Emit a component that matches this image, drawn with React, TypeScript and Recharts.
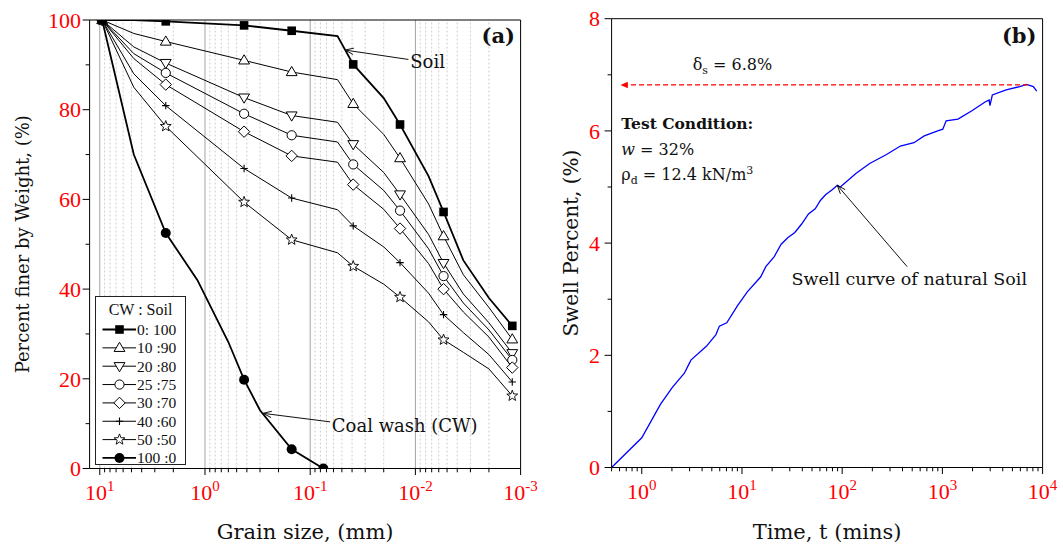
import React from 'react';
import { LineChart, Line, XAxis, YAxis, ReferenceLine, ReferenceDot, Legend } from 'recharts';

const SERIF = '"DejaVu Serif", serif';
const TIMES = '"Liberation Serif", "Times New Roman", serif';
const RED = '#ff0000';

// ---------------- Panel (a): grain size distribution ----------------
const grainSizes = [9.5, 4.75, 2.36, 0.425, 0.15, 0.055, 0.039, 0.02, 0.014, 0.0075, 0.0054, 0.0035, 0.002, 0.0012];
const markerIndexes = [0, 2, 3, 4, 6, 8, 10, 13];
const soil0_100 = [100, 100, 99.7, 98.8, 97.6, 96.4, 90.1, 82.6, 76.7, 65.2, 57.2, 46.4, 38.0, 31.8];
const mix10_90 = [100, 97.0, 95.2, 91.0, 88.4, 86.7, 81.3, 74.5, 69.2, 59.0, 51.8, 43.2, 35.9, 28.8];
const mix20_80 = [100, 94.0, 90.4, 82.7, 78.7, 77.2, 72.3, 66.0, 61.1, 52.2, 45.8, 38.9, 32.5, 25.7];
const mix25_75 = [100, 92.5, 88.2, 79.1, 74.3, 72.8, 67.8, 62.0, 57.5, 49.0, 42.9, 36.9, 30.9, 24.2];
const mix30_70 = [100, 91.4, 85.6, 75.1, 69.7, 68.3, 63.3, 57.8, 53.5, 45.7, 40.0, 34.9, 29.3, 22.5];
const mix40_60 = [100, 88.0, 80.9, 66.9, 60.3, 57.7, 54.1, 49.4, 45.9, 39.1, 34.3, 30.3, 25.4, 19.3];
const mix50_50 = [100, 85.0, 76.3, 59.4, 51.0, 48.1, 45.1, 41.1, 38.2, 32.7, 28.7, 25.9, 22.2, 16.2];

const cwSizes = [9.5, 4.75, 2.36, 1.18, 0.6, 0.425, 0.3, 0.15, 0.075];
const cwMarkerIndexes = [0, 2, 5, 7, 8];
const coalWash100_0 = [100, 70.0, 52.5, 42.0, 28.2, 19.8, 13.0, 4.3, 0];

const legendTitle = 'CW : Soil';
const legendLabels = ['0: 100', '10 :90', '20 :80', '25 :75', '30 :70', '40 :60', '50 :50', '100 :0'];
const legendShapes = ['square', 'triUp', 'triDown', 'circle', 'diamond', 'plus', 'star', 'dot'];

const grainMajorTicks = [10, 1, 0.1, 0.01, 0.001];
const grainMinorTicks = [
  9, 8, 7, 6, 5, 4, 3, 2,
  0.9, 0.8, 0.7, 0.6, 0.5, 0.4, 0.3, 0.2,
  0.09, 0.08, 0.07, 0.06, 0.05, 0.04, 0.03, 0.02,
  0.009, 0.008, 0.007, 0.006, 0.005, 0.004, 0.003, 0.002,
];
const percentTicks = [0, 10, 20, 30, 40, 50, 60, 70, 80, 90, 100];

// ---------------- Panel (b): swell curve ----------------
const swellTime = [
  0.5, 1.0, 1.54, 2.02, 2.66, 2.99, 3.11, 4.41, 5.5, 5.95, 7.05, 9.07, 11.3, 15.4, 17.3, 21.0, 24.6, 28.8,
  33.7, 39.4, 46.1, 53.8, 60.6, 68.2, 79.5, 89.4, 95.8, 137, 188, 277, 381, 520, 660, 898, 1010, 1090,
  1430, 1970, 2690, 2930, 2980, 3150, 4330, 5920, 6910, 8080, 8740,
];
const swellPercent = [
  0, 0.53, 1.13, 1.43, 1.68, 1.86, 1.92, 2.16, 2.37, 2.52, 2.58, 2.89, 3.13, 3.4, 3.58, 3.76, 3.98, 4.1,
  4.19, 4.34, 4.52, 4.61, 4.76, 4.86, 4.95, 5.03, 5.0, 5.24, 5.42, 5.58, 5.73, 5.79, 5.91, 6.0, 6.03, 6.18,
  6.21, 6.36, 6.52, 6.55, 6.45, 6.64, 6.73, 6.79, 6.83, 6.79, 6.71,
];
const peakSwell = 6.82;
const timeMajorTicks = [1, 10, 100, 1000, 10000];
const timeMinorTicks = [
  0.5, 0.6, 0.7, 0.8, 0.9,
  2, 3, 4, 5, 6, 7, 8, 9,
  20, 30, 40, 50, 60, 70, 80, 90,
  200, 300, 400, 500, 600, 700, 800, 900,
  2000, 3000, 4000, 5000, 6000, 7000, 8000, 9000,
];
const swellTicks = [0, 1, 2, 3, 4, 5, 6, 7, 8];

// ---------------- derived tables ----------------
const mixRows = grainSizes.map((d, i) => ({
  d,
  s0: soil0_100[i],
  s10: mix10_90[i],
  s20: mix20_80[i],
  s25: mix25_75[i],
  s30: mix30_70[i],
  s40: mix40_60[i],
  s50: mix50_50[i],
}));
const cwRows = cwSizes.map((d, i) => ({ d, cw: coalWash100_0[i] }));
const swellRows = swellTime.map((t, i) => ({ t, s: swellPercent[i] }));

const mixSeries = [
  { key: 's10', shape: 'triUp', w: 1 },
  { key: 's20', shape: 'triDown', w: 1 },
  { key: 's25', shape: 'circle', w: 1 },
  { key: 's30', shape: 'diamond', w: 1 },
  { key: 's40', shape: 'plus', w: 1 },
  { key: 's50', shape: 'star', w: 1 },
];

// ---------------- drawing helpers ----------------
function Marker({ shape, cx, cy }: { shape: string; cx: number; cy: number }) {
  switch (shape) {
    case 'square':
      return <rect x={cx - 4.3} y={cy - 4.3} width={8.6} height={8.6} fill="#000" />;
    case 'triUp':
      return <polygon points={`${cx},${cy - 5.6} ${cx + 5.4},${cy + 3.6} ${cx - 5.4},${cy + 3.6}`} fill="#fff" stroke="#000" strokeWidth={1} />;
    case 'triDown':
      return <polygon points={`${cx},${cy + 5.6} ${cx + 5.4},${cy - 3.6} ${cx - 5.4},${cy - 3.6}`} fill="#fff" stroke="#000" strokeWidth={1} />;
    case 'circle':
      return <circle cx={cx} cy={cy} r={4.6} fill="#fff" stroke="#000" strokeWidth={1} />;
    case 'diamond':
      return <polygon points={`${cx},${cy - 5.7} ${cx + 5.7},${cy} ${cx},${cy + 5.7} ${cx - 5.7},${cy}`} fill="#fff" stroke="#000" strokeWidth={1} />;
    case 'plus':
      return <path d={`M${cx - 3.7},${cy}H${cx + 3.7}M${cx},${cy - 3.7}V${cy + 3.7}`} stroke="#000" strokeWidth={1.1} fill="none" />;
    case 'star': {
      const pts: string[] = [];
      for (let i = 0; i < 10; i++) {
        const r = i % 2 === 0 ? 5.7 : 2.4;
        const a = -Math.PI / 2 + (i * Math.PI) / 5;
        pts.push(`${cx + r * Math.cos(a)},${cy + r * Math.sin(a)}`);
      }
      return <polygon points={pts.join(' ')} fill="#fff" stroke="#000" strokeWidth={0.9} />;
    }
    case 'dot':
      return <circle cx={cx} cy={cy} r={5} fill="#000" />;
    default:
      return null;
  }
}

const makeDot = (shape: string, idx: number[]) => (p: any) => {
  const k = `dot-${shape}-${p.index}`;
  if (!idx.includes(p.index) || p.cx == null || p.cy == null) return <g key={k} />;
  return (
    <g key={k}>
      <Marker shape={shape} cx={p.cx} cy={p.cy} />
    </g>
  );
};

const isPow10 = (v: number) => Math.abs(Math.log10(v) - Math.round(Math.log10(v))) < 1e-9;

const PowTick = (p: any) => {
  const { x, y, payload } = p;
  const v = payload.value;
  const major = isPow10(v);
  const e = Math.round(Math.log10(v));
  return (
    <g>
      <line x1={x} y1={y} x2={x} y2={y + (major ? 6.5 : 3.8)} stroke="#000" strokeWidth={1} />
      {major && (
        <text x={x} y={y + 31.5} textAnchor="middle" fill={RED} fontFamily={TIMES} fontSize={22}>
          10
          <tspan dy={-9} fontSize={15}>
            {String(e)}
          </tspan>
        </text>
      )}
    </g>
  );
};

const makeLinTick = (every: number, gap: number, fontSize: number) => (p: any) => {
  const { x, y, payload } = p;
  const v = payload.value;
  const major = v % every === 0;
  return (
    <g>
      <line x1={x} y1={y} x2={x - (major ? 7 : 4)} y2={y} stroke="#000" strokeWidth={1} />
      {major && (
        <text x={x - gap} y={y} dy="0.35em" textAnchor="end" fill={RED} fontFamily={TIMES} fontSize={fontSize}>
          {v}
        </text>
      )}
    </g>
  );
};

const arrowShape = (color: string, head: 'open' | 'filled', dash?: string, width = 1, L = 9, spread = 0.36) => (p: any) => {
  const { x1, y1, x2, y2 } = p;
  const ang = Math.atan2(y1 - y2, x1 - x2);
  const a = `${x2 + L * Math.cos(ang + spread)},${y2 + L * Math.sin(ang + spread)}`;
  const b = `${x2 + L * Math.cos(ang - spread)},${y2 + L * Math.sin(ang - spread)}`;
  return (
    <g>
      <line x1={x1} y1={y1} x2={x2} y2={y2} stroke={color} strokeWidth={width} strokeDasharray={dash} />
      {head === 'open' ? (
        <polyline points={`${a} ${x2},${y2} ${b}`} fill="none" stroke={color} strokeWidth={width} />
      ) : (
        <polygon points={`${a} ${x2},${y2} ${b}`} fill={color} />
      )}
    </g>
  );
};

const textShape = (content: React.ReactNode, opts: { anchor?: string; size?: number; bold?: boolean; family?: string } = {}) => (p: any) => (
  <text
    x={p.cx}
    y={p.cy}
    textAnchor={opts.anchor || 'start'}
    fontFamily={opts.family || SERIF}
    fontSize={opts.size || 18}
    fontWeight={opts.bold ? 'bold' : 'normal'}
    fill="#111"
  >
    {content}
  </text>
);

const LegendBox = () => (
  <svg width={91} height={170} style={{ display: 'block' }}>
    <rect x={0.5} y={0.5} width={90} height={168} fill="#fff" stroke="#222" strokeWidth={1} />
    <text x={45.5} y={13.5} dy="0.35em" textAnchor="middle" fontFamily={TIMES} fontSize={16} fill="#111">
      {legendTitle}
    </text>
    {legendLabels.map((lab, i) => {
      const cy = 33.5 + i * 18.35;
      const shape = legendShapes[i];
      const thick = shape === 'square' || shape === 'dot';
      return (
        <g key={lab}>
          <line x1={7.5} x2={41} y1={cy} y2={cy} stroke="#000" strokeWidth={thick ? 1.8 : 1} />
          <Marker shape={shape} cx={24.5} cy={cy} />
          <text x={42} y={cy} dy="0.35em" fontFamily={TIMES} fontSize={15.5} fill="#111">
            {lab}
          </text>
        </g>
      );
    })}
  </svg>
);

// ---------------- panels ----------------
function GradingPanel() {
  return (
    <LineChart width={560} height={545} data={mixRows} margin={{ top: 20, right: 39.4, bottom: 36.5, left: 29.6 }}>
      <XAxis
        dataKey="d"
        type="number"
        scale="log"
        domain={[0.001, 12.5]}
        reversed
        allowDataOverflow
        ticks={[...grainMajorTicks, ...grainMinorTicks]}
        interval={0}
        tickSize={0}
        tickMargin={0}
        tickLine={false}
        axisLine={{ stroke: '#000' }}
        tick={PowTick}
        height={40}
        label={(p: any) => {
          const vb = p.viewBox;
          return (
            <text x={vb.x + vb.width / 2} y={vb.y + 70.5} textAnchor="middle" fontFamily={SERIF} fontSize={21} fill="#111">
              Grain size, (mm)
            </text>
          );
        }}
      />
      <YAxis
        type="number"
        domain={[0, 100]}
        allowDataOverflow
        ticks={percentTicks}
        interval={0}
        tickSize={0}
        tickMargin={0}
        tickLine={false}
        axisLine={{ stroke: '#000' }}
        tick={makeLinTick(20, 8.5, 22)}
        width={60}
        label={(p: any) => {
          const vb = p.viewBox;
          const cx = 28.5;
          const cy = vb.y + vb.height / 2;
          return (
            <text x={cx} y={cy} transform={`rotate(-90 ${cx} ${cy})`} textAnchor="middle" fontFamily={SERIF} fontSize={18} fill="#111">
              Percent finer by Weight, (%)
            </text>
          );
        }}
      />
      {grainMinorTicks.map((v) => (
        <ReferenceLine key={`mn${v}`} x={v} stroke="#cfcfcf" strokeDasharray="2 2" strokeWidth={1} />
      ))}
      {grainMajorTicks.slice(0, 4).map((v) => (
        <ReferenceLine key={`mj${v}`} x={v} stroke="#a3a3a3" strokeWidth={1} />
      ))}
      <ReferenceLine y={100} stroke="#000" strokeWidth={1} />
      <ReferenceLine x={0.001} stroke="#000" strokeWidth={1} />

      {mixSeries.map((s) => (
        <Line
          key={s.key}
          dataKey={s.key}
          type="linear"
          stroke="#000"
          strokeWidth={s.w}
          dot={makeDot(s.shape, markerIndexes)}
          activeDot={false}
          isAnimationActive={false}
        />
      ))}
      <Line dataKey="s0" type="linear" stroke="#000" strokeWidth={1.8} dot={makeDot('square', markerIndexes)} activeDot={false} isAnimationActive={false} />
      <Line data={cwRows} dataKey="cw" type="linear" stroke="#000" strokeWidth={1.8} dot={makeDot('dot', cwMarkerIndexes)} activeDot={false} isAnimationActive={false} />

      <ReferenceLine segment={[{ x: 0.01166, y: 91.2 }, { x: 0.0466, y: 93.3 }]} shape={arrowShape('#111', 'open')} />
      <ReferenceLine segment={[{ x: 0.0647, y: 10.4 }, { x: 0.2805, y: 12.3 }]} shape={arrowShape('#111', 'open')} />
      <ReferenceDot x={0.0112} y={89.2} r={0} shape={textShape('Soil', { size: 18 })} />
      <ReferenceDot x={0.0623} y={8.2} r={0} shape={textShape('Coal wash (CW)', { size: 18 })} />
      <ReferenceDot x={0.00113} y={94.9} r={0} shape={textShape('(a)', { anchor: 'end', size: 21, bold: true })} />

      <Legend
        content={LegendBox}
        layout="horizontal"
        verticalAlign="middle"
        align="center"
        wrapperStyle={{ left: 95, top: 296, width: 91, height: 170 }}
      />
    </LineChart>
  );
}

function SwellPanel() {
  return (
    <LineChart width={533} height={545} data={swellRows} margin={{ top: 18.7, right: 20.4, bottom: 37.5, left: 21.6 }}>
      <XAxis
        dataKey="t"
        type="number"
        scale="log"
        domain={[0.5, 10000]}
        allowDataOverflow
        ticks={[...timeMajorTicks, ...timeMinorTicks]}
        interval={0}
        tickSize={0}
        tickMargin={0}
        tickLine={false}
        axisLine={{ stroke: '#000' }}
        tick={PowTick}
        height={40}
        label={(p: any) => {
          const vb = p.viewBox;
          return (
            <text x={vb.x + vb.width / 2} y={vb.y + 71} textAnchor="middle" fontFamily={SERIF} fontSize={21} fill="#111">
              Time, t (mins)
            </text>
          );
        }}
      />
      <YAxis
        type="number"
        domain={[0, 8]}
        allowDataOverflow
        ticks={swellTicks}
        interval={0}
        tickSize={0}
        tickMargin={0}
        tickLine={false}
        axisLine={{ stroke: '#000' }}
        tick={makeLinTick(2, 11.5, 22)}
        width={60}
        label={(p: any) => {
          const vb = p.viewBox;
          const cx = 48;
          const cy = vb.y + vb.height / 2;
          return (
            <text x={cx} y={cy} transform={`rotate(-90 ${cx} ${cy})`} textAnchor="middle" fontFamily={SERIF} fontSize={20} fill="#111">
              Swell Percent, (%)
            </text>
          );
        }}
      />
      <ReferenceLine y={8} stroke="#000" strokeWidth={1} />
      <ReferenceLine x={10000} stroke="#000" strokeWidth={1} />

      <Line dataKey="s" type="linear" stroke="#0000ff" strokeWidth={1.3} dot={false} activeDot={false} isAnimationActive={false} />

      <ReferenceLine segment={[{ x: 7150, y: peakSwell }, { x: 0.614, y: peakSwell }]} shape={arrowShape(RED, 'filled', '5 3', 1.2, 8, 0.42)} />
      <ReferenceLine segment={[{ x: 445, y: 3.58 }, { x: 89.4, y: 5.03 }]} shape={arrowShape('#111', 'open')} />

      <ReferenceDot x={8690} y={7.57} r={0} shape={textShape('(b)', { anchor: 'end', size: 21, bold: true })} />
      <ReferenceDot
        x={3.22}
        y={7.09}
        r={0}
        shape={textShape(
          <>
            δ<tspan dy={4} fontSize={11}>s</tspan>
            <tspan dy={-4}> = 6.8%</tspan>
          </>,
          { size: 16 }
        )}
      />
      <ReferenceDot x={0.625} y={6.03} r={0} shape={textShape('Test Condition:', { size: 15.5, bold: true })} />
      <ReferenceDot
        x={0.625}
        y={5.57}
        r={0}
        shape={textShape(
          <>
            <tspan fontStyle="italic">w</tspan> = 32%
          </>,
          { size: 16 }
        )}
      />
      <ReferenceDot
        x={0.625}
        y={5.12}
        r={0}
        shape={textShape(
          <>
            ρ<tspan dy={4} fontSize={11}>d</tspan>
            <tspan dy={-4}> = 12.4 kN/m</tspan>
            <tspan dy={-6} fontSize={11}>3</tspan>
          </>,
          { size: 16 }
        )}
      />
      <ReferenceDot x={31.2} y={3.25} r={0} shape={textShape('Swell curve of natural Soil', { size: 17.5 })} />
    </LineChart>
  );
}

export default function App() {
  return (
    <div style={{ position: 'absolute', left: 0, top: 0, width: 1063, height: 545, background: '#fff' }}>
      <div style={{ position: 'absolute', left: 0, top: 0, width: 560, height: 545 }}>
        <GradingPanel />
      </div>
      <div style={{ position: 'absolute', left: 530, top: 0, width: 533, height: 545 }}>
        <SwellPanel />
      </div>
    </div>
  );
}
